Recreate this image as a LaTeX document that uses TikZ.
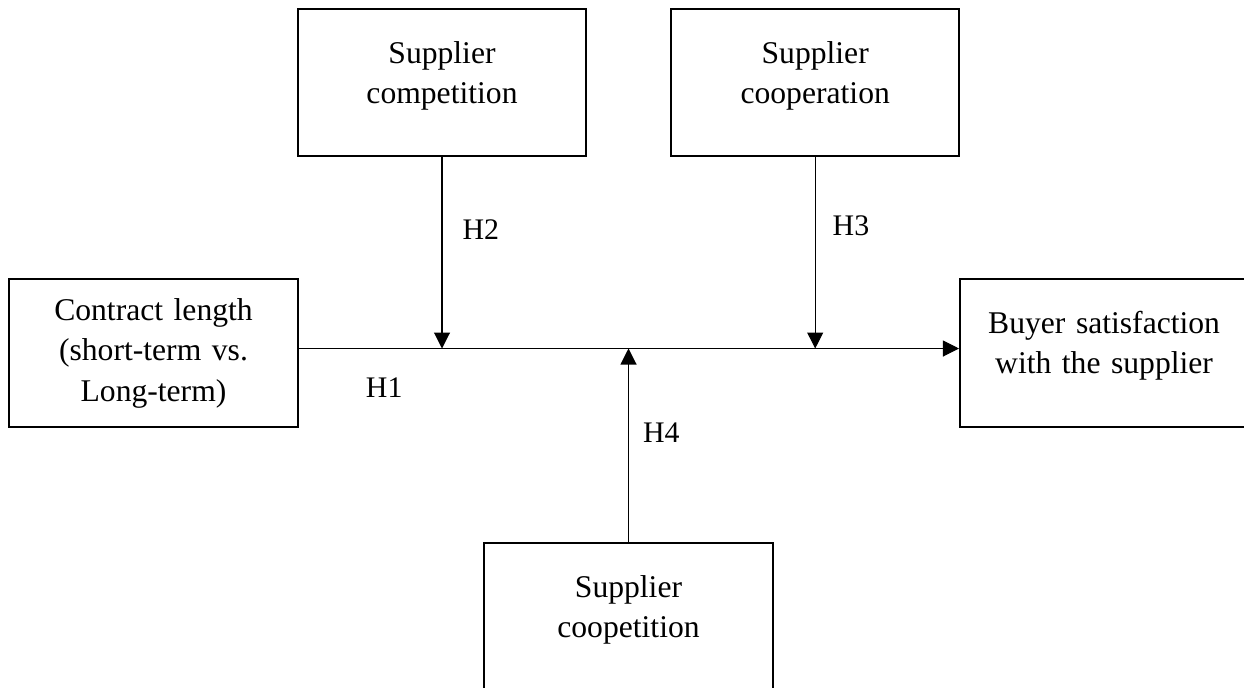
\documentclass[tikz,border=0pt]{standalone}
\usepackage{fontspec}
\setmainfont{Liberation Serif}
\usetikzlibrary{arrows.meta, positioning}

\begin{document}
\begin{tikzpicture}[
    x=0.02cm, y=-0.02cm,
    box/.style={rectangle, draw, line width=1.3pt, inner sep=0pt, text width=5.76cm, align=center,
                text height=1.08cm, text depth=1.86cm, font=\fontsize{18}{23.2}\selectfont},
    hlabel/.style={inner sep=0pt, font=\fontsize{17}{20}\selectfont},
    arrow/.style={->, >={Triangle[width=0.32cm, length=0.32cm]}, line width=0.6pt}
]
\useasboundingbox (0,0) rectangle (1244,687);
\clip (0,0) rectangle (1244,687);

\node[box] (comp) at (442,82.5) {Supplier\\competition};
\node[box, right=1.66cm of comp] (coop) {Supplier\\cooperation};
\node[box, text width=5.78cm, text height=0.82cm, text depth=2.14cm] (contract) at (153.5,353) {Contract length\\(short-term vs.\\Long-term)};
\node[box, text depth=1.88cm, right=13.2cm of contract] (buyer) {Buyer satisfaction\\with the supplier};
\node[box, text width=5.78cm, text depth=1.88cm] (coopet) at (628.5,617) {Supplier\\coopetition};

% main path
\coordinate (lineL) at ([yshift=0.09cm]contract.east);
\coordinate (lineR) at ([yshift=0.09cm]buyer.west);
\draw[arrow] (lineL) -- node[hlabel, pos=0.129, below=0.57cm] (h1) {H1} (lineR);

% moderators
\draw[arrow] (comp.south) -- node[hlabel, pos=0.38, right=0.4cm] (h2) {H2} (comp.south |- lineL);
\draw[arrow] (coop.south) -- node[hlabel, pos=0.36, right=0.34cm] (h3) {H3} (coop.south |- lineL);
\draw[arrow] (coopet.north) -- node[hlabel, pos=0.565, right=0.28cm] (h4) {H4} (coopet.north |- lineL);

\end{tikzpicture}
\end{document}
